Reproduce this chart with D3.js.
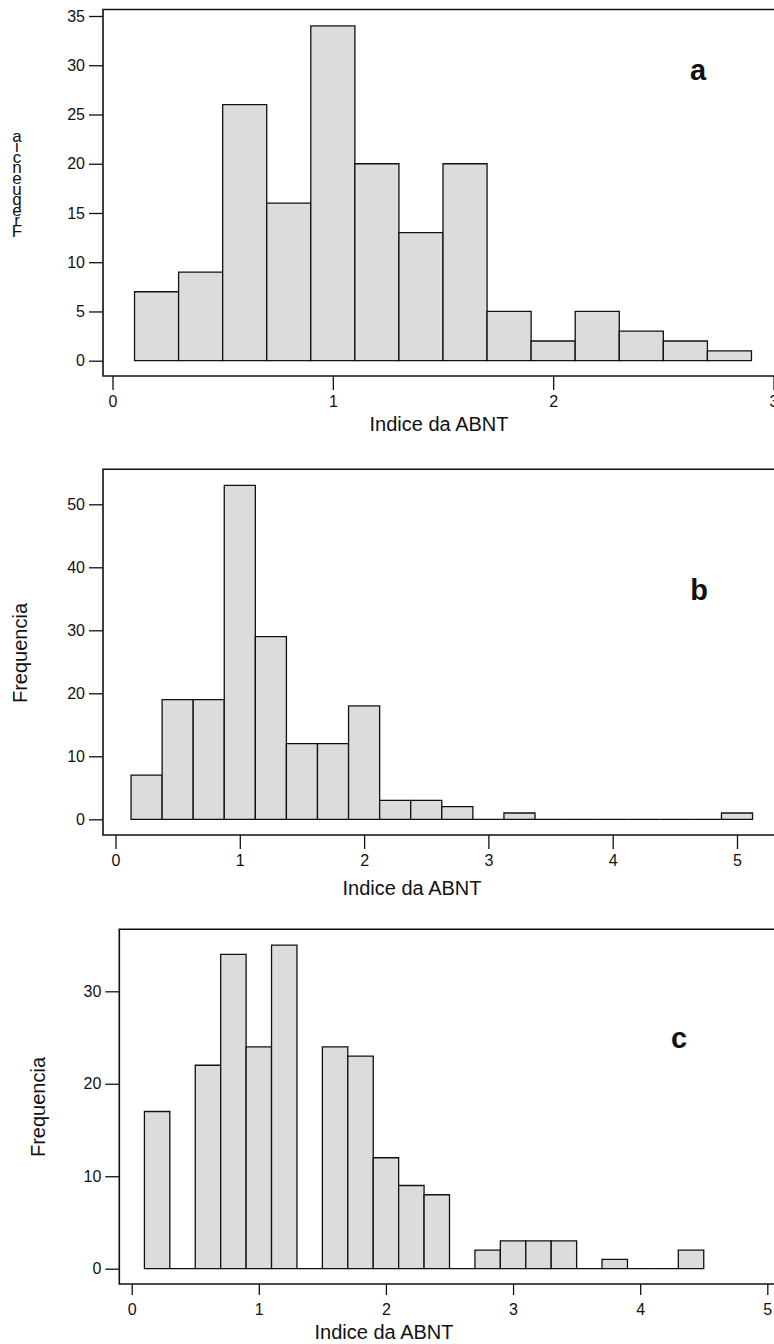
<!DOCTYPE html>
<html>
<head>
<meta charset="utf-8">
<script src="https://cdn.jsdelivr.net/npm/d3@7"></script>
<style>
  body { margin: 0; background: #fff; }
  svg text { font-family: "Liberation Sans", Arial, Helvetica, sans-serif; fill: #111; }
  .bar { fill: #dcdcdc; stroke: #111; stroke-width: 1.3; }
  .frame { stroke: #111; stroke-width: 1.6; fill: none; }
  .tick line { stroke: #111; stroke-width: 1.3; }
</style>
</head>
<body>
<svg id="chart" width="774" height="1344"></svg>
<script>
// panel a : bins of 0.2 starting at 0.1
var edgesA = [0.1, 0.3, 0.5, 0.7, 0.9, 1.1, 1.3, 1.5, 1.7, 1.9, 2.1, 2.3, 2.5, 2.7, 2.9];
var countsA = [7, 9, 26, 16, 34, 20, 13, 20, 5, 2, 5, 3, 2, 1];
var xTicksA = [0, 1, 2, 3];
var yTicksA = [0, 5, 10, 15, 20, 25, 30, 35];

// panel b : bins of 0.25 starting at 0.125
var edgesB = [0.125, 0.375, 0.625, 0.875, 1.125, 1.375, 1.625, 1.875, 2.125, 2.375, 2.625,
              2.875, 3.125, 3.375, 3.625, 3.875, 4.125, 4.375, 4.625, 4.875, 5.125];
var countsB = [7, 19, 19, 53, 29, 12, 12, 18, 3, 3, 2, 0, 1, 0, 0, 0, 0, 0, 0, 1];
var xTicksB = [0, 1, 2, 3, 4, 5];
var yTicksB = [0, 10, 20, 30, 40, 50];

// panel c : bins of 0.2 starting at 0.1
var edgesC = [0.1, 0.3, 0.5, 0.7, 0.9, 1.1, 1.3, 1.5, 1.7, 1.9, 2.1, 2.3, 2.5,
              2.7, 2.9, 3.1, 3.3, 3.5, 3.7, 3.9, 4.1, 4.3, 4.5];
var countsC = [17, 0, 22, 34, 24, 35, 0, 24, 23, 12, 9, 8, 0, 2, 3, 3, 3, 0, 1, 0, 0, 2];
var xTicksC = [0, 1, 2, 3, 4, 5];
var yTicksC = [0, 10, 20, 30];

var xTitle = 'Indice da ABNT';
var yTitle = 'Frequencia';

const svg = d3.select('#chart');

function drawHistogram(p) {
  const g = svg.append('g');

  const x = d3.scaleLinear().domain(p.xDomain).range(p.xRange);
  const y = d3.scaleLinear().domain(p.yDomain).range(p.yRange);

  var bins = p.counts.map(function(c, i) {
    return { x0: p.edges[i], x1: p.edges[i + 1], count: c };
  });

  // bars (zero bins end up as a flat line on the baseline)
  g.selectAll('path.bar')
    .data(bins)
    .enter().append('path')
      .attr('class', 'bar')
      .attr('d', function(d) {
        return 'M' + x(d.x0) + ',' + y(0) + 'V' + y(d.count) + 'H' + x(d.x1) + 'V' + y(0) + 'Z';
      });

  // frame : left, top and bottom lines, running off the right edge
  g.append('path')
    .attr('class', 'frame')
    .attr('d', 'M790,' + p.top + 'H' + p.left + 'V' + p.bottom + 'H790');

  const yAxis = g.append('g')
    .attr('transform', 'translate(' + p.left + ',0)')
    .call(d3.axisLeft(y).tickValues(p.yTicks).tickFormat(d3.format('d'))
      .tickSize(14).tickPadding(4));
  yAxis.select('.domain').remove();

  const xAxis = g.append('g')
    .attr('transform', 'translate(0,' + p.bottom + ')')
    .call(d3.axisBottom(x).tickValues(p.xTicks).tickFormat(d3.format('d'))
      .tickSize(p.xTickSize).tickPadding(20 - p.xTickSize));
  xAxis.select('.domain').remove();

  g.selectAll('.tick text').attr('font-size', 16).attr('fill', '#111');

  g.append('text')
    .attr('x', p.xTitleX)
    .attr('y', p.xTitleY)
    .attr('text-anchor', 'middle')
    .attr('font-size', 20)
    .text(xTitle);

  if (p.brokenYTitle) {
    // the y title of this panel is printed with its letters piled on top of each other
    g.selectAll('text.ychar')
      .data(yTitle.split(''))
      .enter().append('text')
        .attr('class', 'ychar')
        .attr('x', p.yTitleX)
        .attr('y', function(d, i) { return p.yTitleY - i * 10.6; })
        .attr('text-anchor', 'middle')
        .attr('font-size', 17)
        .text(function(d) { return d; });
  } else {
    g.append('text')
      .attr('transform', 'translate(' + p.yTitleX + ',' + p.yTitleY + ') rotate(-90)')
      .attr('text-anchor', 'middle')
      .attr('dy', '0.35em')
      .attr('font-size', 20)
      .text(yTitle);
  }

  g.append('text')
    .attr('x', p.tagX)
    .attr('y', p.tagY)
    .attr('text-anchor', 'middle')
    .attr('font-size', 29)
    .attr('font-weight', 'bold')
    .text(p.tag);
}

drawHistogram({
  edges: edgesA, counts: countsA, xTicks: xTicksA, yTicks: yTicksA,
  xDomain: [0, 3], xRange: [112.5, 773.5],
  yDomain: [0, 35], yRange: [360.7, 16],
  left: 103, top: 9.5, bottom: 376, xTickSize: 14,
  xTitleX: 439, xTitleY: 431,
  yTitleX: 17, yTitleY: 237, brokenYTitle: true,
  tag: 'a', tagX: 698, tagY: 80
});

drawHistogram({
  edges: edgesB, counts: countsB, xTicks: xTicksB, yTicks: yTicksB,
  xDomain: [0, 5], xRange: [115.5, 737],
  yDomain: [0, 50], yRange: [819.3, 504.3],
  left: 103, top: 469.3, bottom: 835, xTickSize: 14,
  xTitleX: 412, xTitleY: 895,
  yTitleX: 20, yTitleY: 653,
  tag: 'b', tagX: 699, tagY: 600
});

drawHistogram({
  edges: edgesC, counts: countsC, xTicks: xTicksC, yTicks: yTicksC,
  xDomain: [0, 5], xRange: [131.7, 767.3],
  yDomain: [0, 30], yRange: [1268.7, 991.3],
  left: 119.3, top: 929.3, bottom: 1284, xTickSize: 11,
  xTitleX: 384, xTitleY: 1339,
  yTitleX: 38, yTitleY: 1107,
  tag: 'c', tagX: 679, tagY: 1048
});
</script>
</body>
</html>
